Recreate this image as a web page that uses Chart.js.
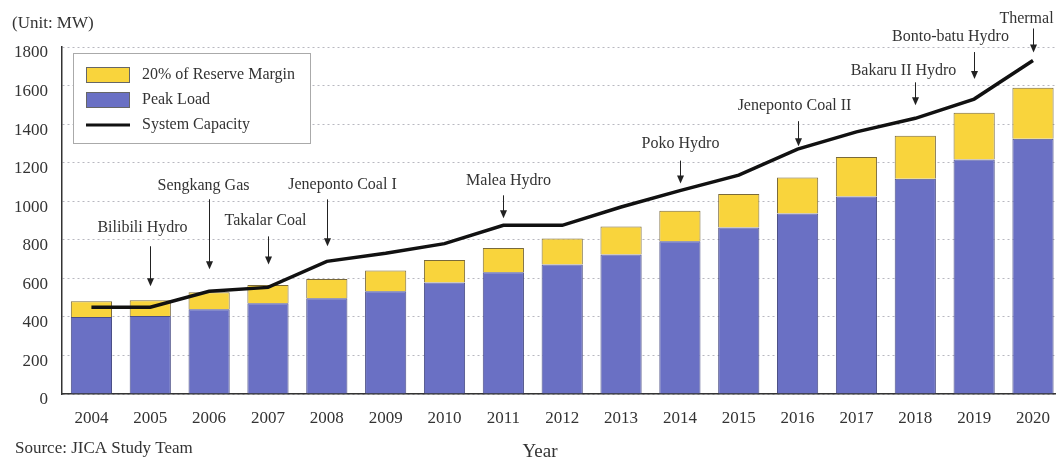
<!DOCTYPE html>
<html>
<head>
<meta charset="utf-8">
<script src="https://cdn.jsdelivr.net/npm/chart.js@4.4.1/dist/chart.umd.min.js"></script>
<style>
  html, body { margin: 0; padding: 0; background: #fff; overflow: hidden; }
  #wrap { width: 1056px; height: 459px; overflow: hidden; }
</style>
</head>
<body>
<div id="wrap"><canvas id="chart" width="1064" height="459"></canvas></div>
<script>
"use strict";

// values (MW)
var years = ["2004", "2005", "2006", "2007", "2008", "2009", "2010", "2011", "2012",
             "2013", "2014", "2015", "2016", "2017", "2018", "2019", "2020"];
var peakLoad = [400, 405, 440, 471, 497, 533, 579, 631, 672, 724, 792, 864, 936, 1024, 1117, 1216, 1324];
var reserveMargin = [81, 81, 88, 94, 100, 107, 116, 126, 134, 145, 158, 173, 187, 205, 223, 243, 265];
var systemCapacity = [450, 450, 533, 553, 688, 730, 780, 875, 875, 970, 1055, 1135, 1270, 1360, 1430, 1530, 1730];
var yTicks = [0, 200, 400, 600, 800, 1000, 1200, 1400, 1600, 1800];

// new plants pointed at on the capacity line
var projectYears = ["2005", "2006", "2007", "2008", "2011", "2014", "2016", "2018", "2019", "2020"];
var projectNames = ["Bilibili Hydro", "Sengkang Gas", "Takalar Coal", "Jeneponto Coal I", "Malea Hydro",
                    "Poko Hydro", "Jeneponto Coal II", "Bakaru II Hydro", "Bonto-batu Hydro", "Thermal"];

var SERIF = "'Liberation Serif', 'Times New Roman', serif";
var TEXT = "#333";

// where each label/arrow sits relative to the line (px)
var arrowLayout = [
  {dx: -8, gap: 21, len: 40, tg: 18},
  {dx: -6, gap: 22, len: 70, tg: 13},
  {dx: -3, gap: 23, len: 28, tg: 16},
  {dx: 15, gap: 15, len: 47, tg: 15},
  {dx: 5, gap: 7, len: 23, tg: 15},
  {dx: 0, gap: 7, len: 23, tg: 17},
  {dx: -4, gap: 3, len: 25, tg: 15},
  {dx: -12, gap: 13, len: 23, tg: 12},
  {dx: -24, gap: 20, len: 27, tg: 15},
  {dx: -7, gap: 8, len: 24, tg: 10}
];

var projectArrows = {
  id: "projectArrows",
  afterDatasetsDraw: function(chart) {
    var ctx = chart.ctx;
    var xs = chart.scales.x, ys = chart.scales.y;
    ctx.save();
    ctx.strokeStyle = "#222";
    ctx.lineWidth = 1;
    ctx.font = "16px " + SERIF;
    ctx.textAlign = "center";
    ctx.textBaseline = "middle";
    projectYears.forEach(function(yr, i) {
      var idx = years.indexOf(yr);
      var L = arrowLayout[i];
      var x = Math.round(xs.getPixelForValue(idx)) + 0.5;
      var tip = ys.getPixelForValue(systemCapacity[idx]) - L.gap;
      var top = tip - L.len;
      ctx.beginPath();
      ctx.moveTo(x, top);
      ctx.lineTo(x, tip - 5);
      ctx.stroke();
      ctx.fillStyle = "#222";
      ctx.beginPath();
      ctx.moveTo(x - 3.5, tip - 8);
      ctx.lineTo(x + 3.5, tip - 8);
      ctx.lineTo(x, tip);
      ctx.closePath();
      ctx.fill();
      ctx.fillStyle = TEXT;
      ctx.fillText(projectNames[i], x + L.dx, top - L.tg);
    });
    ctx.restore();
  }
};

var legendBox = {
  id: "legendBox",
  afterDraw: function(chart) {
    var ctx = chart.ctx;
    var ds = chart.data.datasets;
    ctx.save();
    ctx.fillStyle = "#fff";
    ctx.fillRect(73, 53, 237, 90);
    ctx.strokeStyle = "#aaa";
    ctx.lineWidth = 1;
    ctx.strokeRect(73.5, 53.5, 237, 90);
    ctx.font = "16px " + SERIF;
    ctx.textBaseline = "middle";
    ctx.textAlign = "left";
    [ds[1], ds[0], ds[2]].forEach(function(d, i) {
      var cy = 75 + i * 25;
      if (d.type === "line") {
        ctx.strokeStyle = d.borderColor;
        ctx.lineWidth = 3;
        ctx.beginPath();
        ctx.moveTo(86, cy);
        ctx.lineTo(130, cy);
        ctx.stroke();
      } else {
        ctx.fillStyle = d.backgroundColor;
        ctx.fillRect(86, cy - 8, 44, 16);
        ctx.strokeStyle = "#666";
        ctx.lineWidth = 1;
        ctx.strokeRect(86.5, cy - 7.5, 43, 15);
      }
      ctx.fillStyle = TEXT;
      ctx.fillText(d.label, 142, cy);
    });
    ctx.restore();
  }
};

var extraText = {
  id: "extraText",
  afterDraw: function(chart) {
    var ctx = chart.ctx;
    ctx.save();
    ctx.fillStyle = TEXT;
    ctx.textBaseline = "middle";
    ctx.textAlign = "left";
    ctx.font = "17px " + SERIF;
    ctx.fillText("(Unit: MW)", 12, 24);
    ctx.fillText("Source: JICA Study Team", 15, 449);
    ctx.textAlign = "center";
    ctx.font = "19px " + SERIF;
    ctx.fillText("Year", 540, 452);
    ctx.restore();
  }
};

new Chart(document.getElementById("chart"), {
  data: {
    labels: years,
    datasets: [
      {
        type: "bar",
        label: "Peak Load",
        data: peakLoad,
        stack: "load",
        backgroundColor: "#6a70c4",
        borderColor: "#4b4f86",
        borderWidth: 1,
        barPercentage: 0.7,
        categoryPercentage: 1,
        order: 2
      },
      {
        type: "bar",
        label: "20% of Reserve Margin",
        data: reserveMargin,
        stack: "load",
        backgroundColor: "#f9d43c",
        borderColor: "#7a6a3a",
        borderWidth: 1,
        barPercentage: 0.7,
        categoryPercentage: 1,
        order: 2
      },
      {
        type: "line",
        label: "System Capacity",
        data: systemCapacity,
        stack: "cap",
        borderColor: "#111",
        borderWidth: 3.5,
        pointRadius: 0,
        tension: 0,
        fill: false,
        order: 0
      }
    ]
  },
  options: {
    responsive: false,
    animation: false,
    devicePixelRatio: 1,
    layout: { padding: { top: 47, left: 0, right: 0, bottom: 0 } },
    plugins: {
      legend: { display: false },
      tooltip: { enabled: false }
    },
    scales: {
      x: {
        stacked: true,
        grid: { display: false, drawTicks: false },
        border: { display: true, color: "#333", width: 1.5 },
        ticks: { color: TEXT, font: { family: SERIF, size: 17 }, padding: 14, maxRotation: 0 },
        afterFit: function(scale) { scale.height = 65; }
      },
      y: {
        stacked: true,
        min: yTicks[0],
        max: yTicks[yTicks.length - 1],
        grid: { color: "#b8b8c0", lineWidth: 1, drawTicks: false },
        border: { display: true, color: "#333", width: 1.5, dash: [2, 3] },
        ticks: {
          stepSize: yTicks[1] - yTicks[0],
          color: TEXT,
          font: { family: SERIF, size: 17 },
          padding: 14,
          labelOffset: 6,
          callback: function(value) { return String(value); }
        },
        afterFit: function(scale) { scale.width = 62; }
      }
    }
  },
  plugins: [projectArrows, legendBox, extraText]
});
</script>
</body>
</html>
